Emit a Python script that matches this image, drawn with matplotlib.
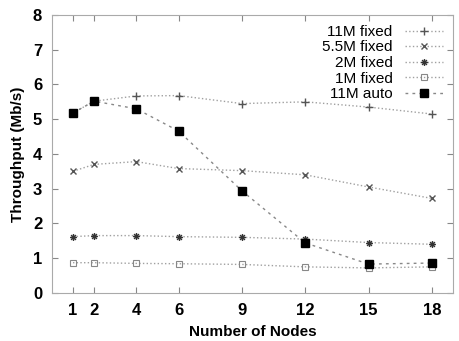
import matplotlib
matplotlib.use("Agg")
import matplotlib.pyplot as plt
from matplotlib.path import Path

nodes = [1, 2, 4, 6, 9, 12, 15, 18]
fixed_11m = [5.18, 5.52, 5.67, 5.68, 5.45, 5.5, 5.35, 5.15]
fixed_55m = [3.5, 3.7, 3.78, 3.58, 3.52, 3.4, 3.05, 2.72]
fixed_2m = [1.62, 1.65, 1.65, 1.62, 1.6, 1.55, 1.45, 1.4]
fixed_1m = [0.87, 0.87, 0.85, 0.84, 0.82, 0.75, 0.72, 0.75]
auto_11m = [5.18, 5.52, 5.3, 4.66, 2.94, 1.44, 0.83, 0.86]
yticks = [0, 1, 2, 3, 4, 5, 6, 7, 8]

plt.rcParams['font.family'] = ['Liberation Sans', 'DejaVu Sans']

# gnuplot style star: + and x together
star = Path([(-1, 0), (1, 0), (0, -1), (0, 1),
             (-0.7, -0.7), (0.7, 0.7), (-0.7, 0.7), (0.7, -0.7)],
            [Path.MOVETO, Path.LINETO] * 4)

fig = plt.figure(figsize=(4.59, 3.41), dpi=100)
ax = fig.add_axes([0.113, 0.141, 0.874, 0.815])

gray = '#a0a0a0'
ax.plot(nodes, fixed_11m, ls=':', color=gray, lw=1, marker='+', ms=6,
        mec='#555555', label='11M fixed')
ax.plot(nodes, fixed_55m, ls=':', color=gray, lw=1, marker='x', ms=4,
        mec='#555555', label='5.5M fixed')
ax.plot(nodes, fixed_2m, ls=':', color=gray, lw=1, marker=star, ms=5,
        mec='#333333', label='2M fixed')
ax.plot(nodes, fixed_1m, ls=':', color=gray, lw=1, marker='s', ms=4.5,
        mfc='none', mec='#888888', mew=0.8, label='1M fixed')
ax.plot(nodes, auto_11m, ls=(0, (2, 3)), color='#888888', lw=1, marker='s',
        ms=5.5, mfc='black', mec='black', label='11M auto')

ax.set_xlim(0, 19)
ax.set_ylim(0, 8)
ax.set_xticks(nodes)
ax.set_yticks(yticks)
ax.tick_params(direction='in', top=True, right=True, length=4,
               color='#888888', labelsize=12, pad=7)
for lab in ax.get_xticklabels() + ax.get_yticklabels():
    lab.set_fontweight('bold')
for s in ax.spines.values():
    s.set_color('#aaaaaa')
    s.set_linewidth(0.8)

ax.set_xlabel('Number of Nodes', fontsize=11, fontweight='bold', labelpad=5)
ax.set_ylabel('Throughput (Mb/s)', fontsize=11, fontweight='bold', labelpad=6)

leg = ax.legend(loc='upper right', markerfirst=False, frameon=False,
                fontsize=11, handlelength=2.5, labelspacing=0.1,
                borderaxespad=0.25, handletextpad=0.8)

fig.savefig('out.png', dpi=100)
